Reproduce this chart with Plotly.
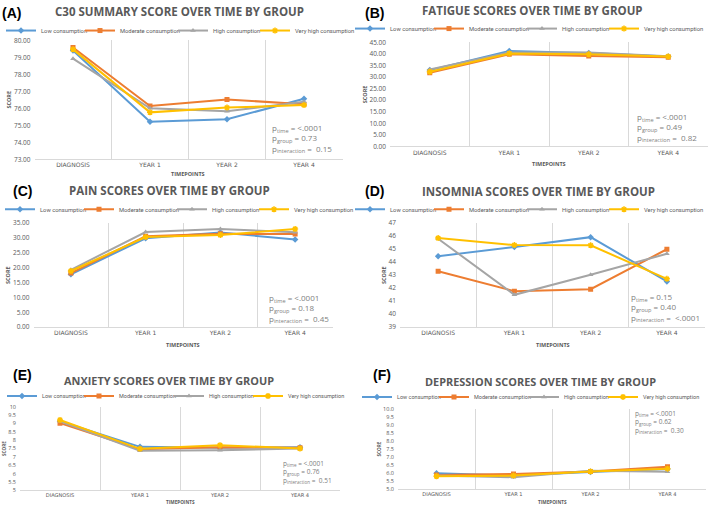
import plotly.graph_objects as go

W, H = 709, 510

timepoints = ["DIAGNOSIS", "YEAR 1", "YEAR 2", "YEAR 4"]
groups = ["Low consumption", "Moderate consumption", "High consumption", "Very high consumption"]

# (A) C30 summary score
c30_low = [79.40, 75.21, 75.35, 76.56]
c30_mod = [79.58, 76.13, 76.52, 76.24]
c30_high = [78.92, 76.00, 75.82, 76.38]
c30_vhigh = [79.47, 75.76, 76.04, 76.19]

# (B) Fatigue
fat_low = [33.0, 41.3, 40.4, 38.9]
fat_mod = [31.8, 39.8, 39.1, 38.6]
fat_high = [33.3, 40.6, 40.6, 39.0]
fat_vhigh = [32.3, 40.2, 39.8, 38.9]

# (C) Pain
pain_low = [17.8, 29.9, 31.8, 29.5]
pain_mod = [18.2, 30.6, 31.4, 31.3]
pain_high = [19.3, 32.0, 33.0, 31.9]
pain_vhigh = [18.9, 30.3, 31.0, 33.0]

# (D) Insomnia
ins_low = [44.46, 45.16, 45.92, 42.52]
ins_mod = [43.30, 41.77, 41.92, 44.99]
ins_high = [45.80, 41.49, 43.03, 44.64]
ins_vhigh = [45.85, 45.31, 45.29, 42.72]

# (E) Anxiety
anx_low = [9.13, 7.60, 7.54, 7.58]
anx_mod = [9.02, 7.45, 7.58, 7.54]
anx_high = [9.13, 7.36, 7.40, 7.50]
anx_vhigh = [9.21, 7.48, 7.70, 7.50]

# (F) Depression
dep_low = [5.99, 5.85, 6.07, 6.26]
dep_mod = [5.89, 5.95, 6.11, 6.40]
dep_high = [5.85, 5.75, 6.15, 6.09]
dep_vhigh = [5.81, 5.85, 6.11, 6.28]

panel_titles = ["C30 SUMMARY SCORE OVER TIME BY GROUP", "FATIGUE SCORES OVER TIME BY GROUP",
                "PAIN SCORES OVER TIME BY GROUP", "INSOMNIA SCORES OVER TIME BY GROUP",
                "ANXIETY SCORES OVER TIME BY GROUP", "DEPRESSION SCORES OVER TIME BY GROUP"]
panel_letters = ["(A)", "(B)", "(C)", "(D)", "(E)", "(F)"]
p_time = ["&lt;.0001", "&lt;.0001", "&lt;.0001", "0.15", "&lt;.0001", "&lt;.0001"]
p_group = ["0.73", "0.49", "0.18", "0.40", "0.76", "0.62"]
p_inter = ["0.15", "0.82", "0.45", "&lt;.0001", "0.51", "0.30"]

series = [
    [c30_low, c30_mod, c30_high, c30_vhigh],
    [fat_low, fat_mod, fat_high, fat_vhigh],
    [pain_low, pain_mod, pain_high, pain_vhigh],
    [ins_low, ins_mod, ins_high, ins_vhigh],
    [anx_low, anx_mod, anx_high, anx_vhigh],
    [dep_low, dep_mod, dep_high, dep_vhigh],
]

colors = ["#5B9BD5", "#ED7D31", "#A5A5A5", "#FFC000"]
symbols = ["diamond", "square", "triangle-up", "asterisk-open"]
msizes = [5, 5, 5, 5]

# layout per panel (pixel boxes: x0, x1, ytop, ybottom)
panels = [
    dict(box=(34.5, 342.5, 36, 157), yr=(73, 80), dt=1, fmt=".2f", title_xy=(179, 7), lab_xy=(11, 8),
         leg=(1, "left", 26), lfs=5.8, p_xy=(270, 136), pfs=8, xt_y=172, fs=1.0),
    dict(box=(390, 708, 38, 144), yr=(0, 45), dt=5, fmt=".2f", title_xy=(532, 6), lab_xy=(375, 8),
         leg=(708, "right", 24), lfs=5.8, p_xy=(635, 125), pfs=8, xt_y=162, fs=1.0),
    dict(box=(33.5, 332.5, 222, 328), yr=(0, 35), dt=5, fmt=".2f", title_xy=(169, 189), lab_xy=(22, 189),
         leg=(0, "left", 208), lfs=5.8, p_xy=(267, 309), pfs=8, xt_y=346, fs=1.0),
    dict(box=(400, 705, 222, 328), yr=(39, 47), dt=1, fmt="d", title_xy=(538, 190), lab_xy=(375, 189),
         leg=(708, "right", 208), lfs=5.8, p_xy=(629, 308), pfs=8, xt_y=346, fs=1.0),
    dict(box=(20, 340, 409, 494), yr=(5, 10), dt=0.5, fmt="", title_xy=(169, 382), lab_xy=(22, 377),
         leg=(2, "left", 398), lfs=5.5, p_xy=(281, 475), pfs=6.5, xt_y=506, fs=0.85),
    dict(box=(398, 706, 411, 493), yr=(5, 10), dt=0.5, fmt=".1f", title_xy=(540, 383), lab_xy=(382, 377),
         leg=(704, "right", 399), lfs=5.5, p_xy=(633, 424), pfs=6.5, xt_y=506, fs=0.85),
]

GRAY = "#595959"
FONT = "Open Sans, Liberation Sans, Arial"
LFONT = "Liberation Sans Narrow, Roboto, Arial"

fig = go.Figure()
annotations = []
layout = {}

for i, p in enumerate(panels):
    ax = "" if i == 0 else str(i + 1)
    leg = "legend" if i == 0 else f"legend{i + 1}"
    for g in range(4):
        tw = 0.47 * p["lfs"] * len(groups[g])
        lw = round(tw + 2) if g == 3 else round(tw - 7)
        fig.add_trace(go.Scatter(
            x=timepoints, y=series[i][g], name=groups[g], mode="lines+markers",
            line=dict(color=colors[g], width=2),
            marker=dict(symbol=symbols[g], size=msizes[g], color=colors[g],
                        line=dict(color=colors[g], width=1.5 if g == 3 else 0)),
            xaxis=f"x{ax}", yaxis=f"y{ax}", legend=leg, showlegend=True, legendwidth=lw,
        ))
    x0, x1, yt, yb = p["box"]
    layout[f"xaxis{ax}"] = dict(
        domain=[x0 / W, x1 / W], anchor=f"y{ax}", type="category", range=[-0.5, 3.5],
        tickson="boundaries", showgrid=True, gridcolor="#D9D9D9", gridwidth=1,
        showline=True, linecolor="#D9D9D9", linewidth=1, ticks="", zeroline=False,
        tickfont=dict(size=6 * p["fs"], color=GRAY, family="DejaVu Sans"), fixedrange=True,
    )
    layout[f"yaxis{ax}"] = dict(
        domain=[1 - yb / H, 1 - yt / H], anchor=f"x{ax}", range=list(p["yr"]), dtick=p["dt"],
        tick0=p["yr"][0], tickformat=p["fmt"], showgrid=False, zeroline=False, showline=False,
        ticks="", tickfont=dict(size=6.5 * p["fs"], color=GRAY, family=FONT), ticklabelstandoff=3,
        title=dict(text="SCORE", font=dict(size=5.5 * p["fs"], color=GRAY, family=FONT, weight="bold"),
                   standoff=1),
        fixedrange=True,
    )
    lx, lanchor, ly = p["leg"]
    layout[leg] = dict(
        orientation="h", x=lx / W, xanchor=lanchor, y=1 - ly / H, yanchor="middle",
        font=dict(size=p["lfs"], color=GRAY, family=LFONT),
        bgcolor="rgba(0,0,0,0)", itemwidth=30, tracegroupgap=0,
        itemclick=False, itemdoubleclick=False,
    )
    tx, ty = p["title_xy"]
    annotations.append(dict(
        text=panel_titles[i], x=tx / W, y=1 - ty / H, xref="paper", yref="paper",
        xanchor="center", yanchor="middle", showarrow=False,
        font=dict(size=11.5 * (0.95 if i >= 4 else 1.0), color=GRAY, family=FONT, weight="bold"),
    ))
    lbx, lby = p["lab_xy"]
    annotations.append(dict(
        text=panel_letters[i], x=lbx / W, y=1 - lby / H, xref="paper", yref="paper",
        xanchor="center", yanchor="middle", showarrow=False,
        font=dict(size=14, color="#000000", family="Liberation Sans, Arial", weight="bold"),
    ))
    pxl, pyl = p["p_xy"]
    annotations.append(dict(
        text=(f"p<sub>time</sub> = {p_time[i]}<br>p<sub>group</sub> = {p_group[i]}"
              f"<br>p<sub>interaction</sub> =&nbsp; {p_inter[i]}"),
        x=pxl / W, y=1 - pyl / H, xref="paper", yref="paper", xanchor="left", yanchor="middle",
        align="left", showarrow=False,
        font=dict(size=p["pfs"], color="#808080", family=FONT),
    ))
    annotations.append(dict(
        text="TIMEPOINTS", x=((x0 + x1) / 2) / W, y=1 - p["xt_y"] / H, xref="paper", yref="paper",
        xanchor="center", yanchor="middle", showarrow=False,
        font=dict(size=5.5 * p["fs"], color=GRAY, family=FONT, weight="bold"),
    ))

fig.update_layout(
    width=W, height=H, margin=dict(l=0, r=0, t=0, b=0),
    paper_bgcolor="white", plot_bgcolor="white", hovermode=False,
    annotations=annotations, **layout,
)

fig.write_html(
    "out.html",
    config={"displayModeBar": False, "staticPlot": True},
    post_script="document.body.style.margin='0px';document.body.style.overflow='hidden';",
)
